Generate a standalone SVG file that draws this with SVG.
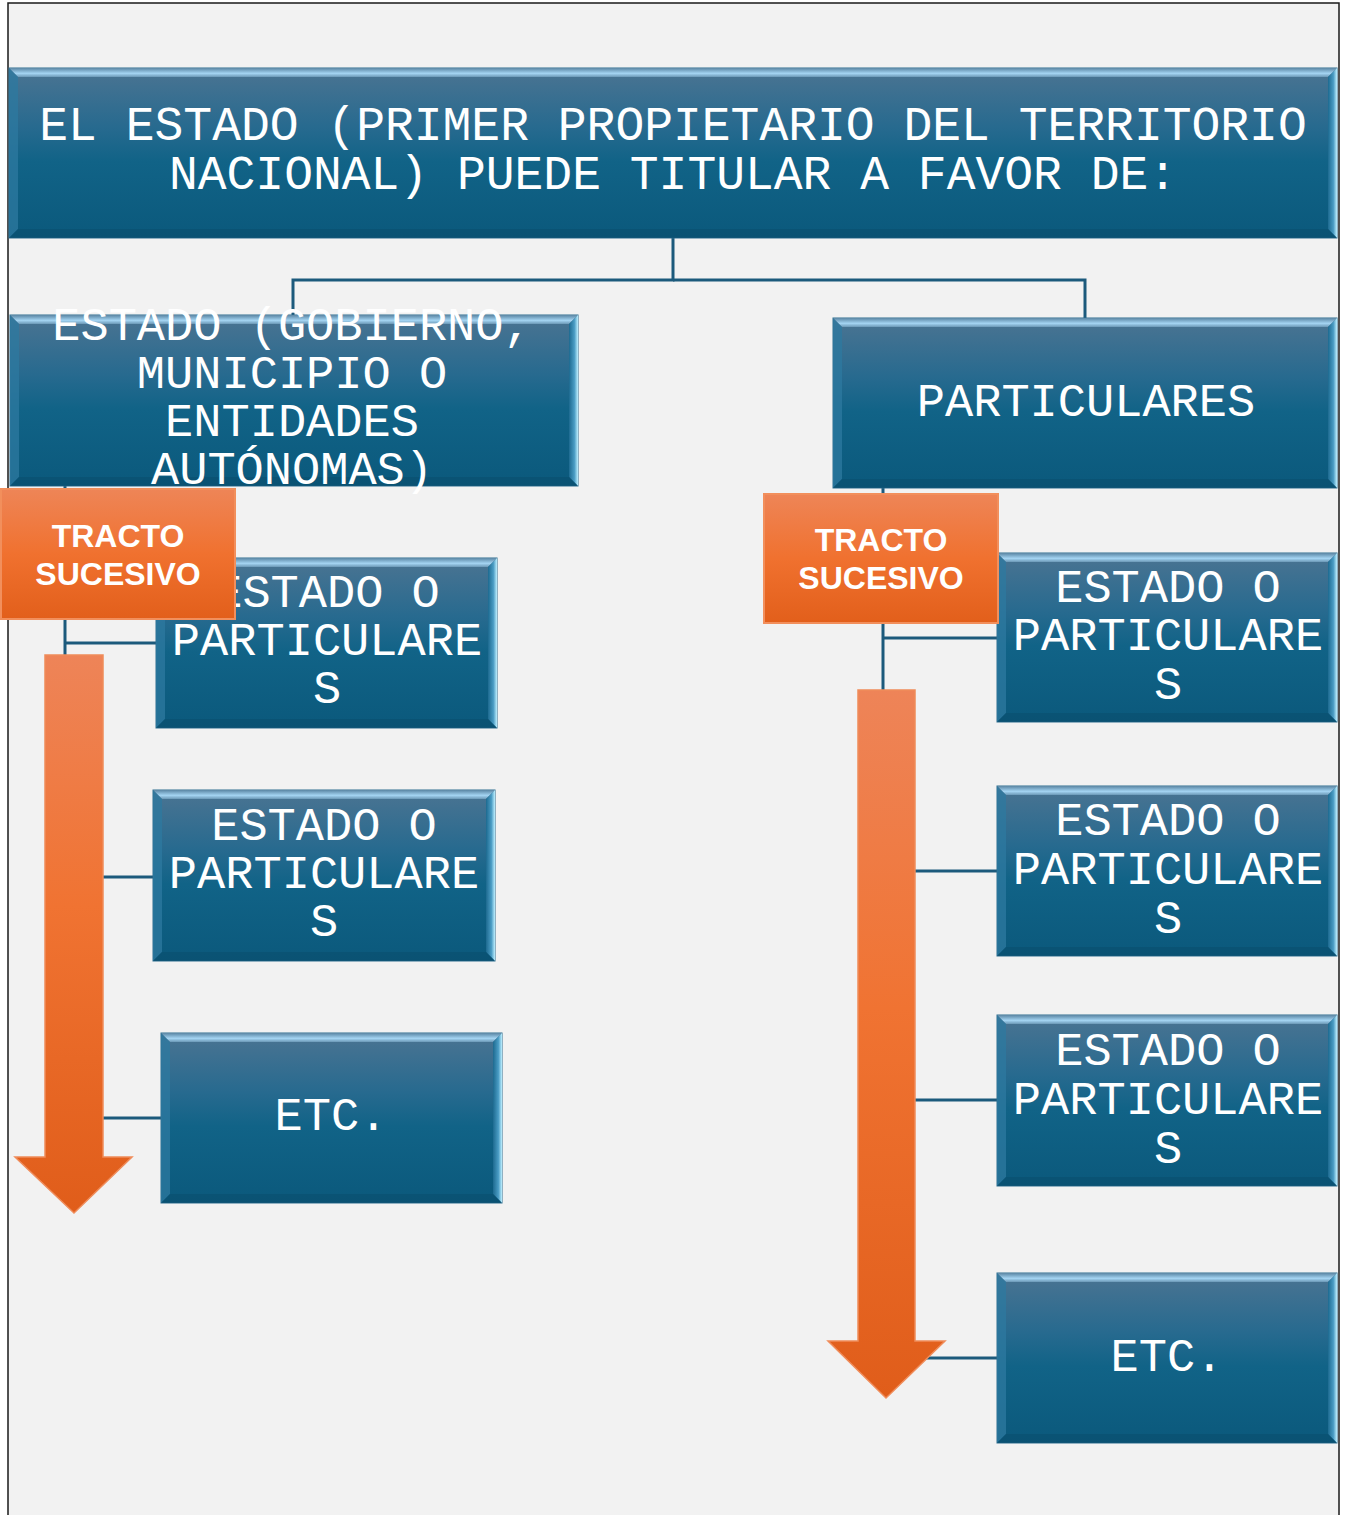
<svg xmlns="http://www.w3.org/2000/svg" width="1348" height="1515" viewBox="0 0 1348 1515">
<defs>
<linearGradient id="face" x1="0" y1="0" x2="0" y2="1">
<stop offset="0" stop-color="#4b7492"/>
<stop offset="0.35" stop-color="#276a8f"/>
<stop offset="0.55" stop-color="#116387"/>
<stop offset="1" stop-color="#0b597c"/>
</linearGradient>
<linearGradient id="bevT" x1="0" y1="0" x2="0" y2="1">
<stop offset="0" stop-color="#5a86a4"/>
<stop offset="0.6" stop-color="#a4d4f2"/>
<stop offset="1" stop-color="#6b98b6"/>
</linearGradient>
<linearGradient id="bevR" x1="0" y1="0" x2="1" y2="0">
<stop offset="0" stop-color="#1d6a90"/>
<stop offset="0.6" stop-color="#4a9cc4"/>
<stop offset="1" stop-color="#bdefff"/>
</linearGradient>
<linearGradient id="org" x1="0" y1="0" x2="0" y2="1">
<stop offset="0" stop-color="#ee8557"/>
<stop offset="0.5" stop-color="#f0712f"/>
<stop offset="1" stop-color="#e25f1b"/>
</linearGradient>
<linearGradient id="arr" x1="0" y1="0" x2="0" y2="1">
<stop offset="0" stop-color="#ee8458"/>
<stop offset="0.45" stop-color="#f07332"/>
<stop offset="1" stop-color="#e05d1a"/>
</linearGradient>
<style>
.face{fill:url(#face);stroke:#2f6f90;stroke-width:1}
.bt{fill:url(#bevT)}
.bl{fill:#2d7aa0;opacity:0.75}
.br{fill:url(#bevR)}
.bb{fill:#0a4f6e;opacity:0.6}
.t{font-family:"Liberation Mono","Courier New",monospace;font-size:47px;fill:#ffffff;text-anchor:middle}
.ot{font-family:"Liberation Sans",Arial,sans-serif;font-weight:bold;font-size:32px;fill:#ffffff;text-anchor:middle}
.obox{fill:url(#org);stroke:#f28f5c;stroke-width:2}
.arrow{fill:url(#arr);stroke:#f08c5a;stroke-width:1.5}
.con{fill:none;stroke:#1c5a7c;stroke-width:3}
</style>
</defs>
<rect x="0" y="0" width="1348" height="1515" fill="#ffffff"/>
<rect x="8" y="3" width="1331" height="1520" fill="#f2f2f2" stroke="#1a1a1a" stroke-width="1.5"/>

<g id="connectors">
<path class="con" d="M673 238 V280 H293 V315"/>
<path class="con" d="M673 280 H1085 V318"/>
<path class="con" d="M65 486 V1118"/>
<path class="con" d="M65 643 H157"/>
<path class="con" d="M65 877 H153"/>
<path class="con" d="M65 1118 H161"/>
<path class="con" d="M883 488 V1358"/>
<path class="con" d="M883 638 H997"/>
<path class="con" d="M883 871 H997"/>
<path class="con" d="M883 1100 H997"/>
<path class="con" d="M883 1358 H997"/>
</g>

<g id="n-top">
<rect class="face" x="9" y="68" width="1328" height="170"/>
<polygon class="bt" points="9,68 1337,68 1328,77 18,77"/>
<polygon class="bl" points="9,68 18,77 18,229 9,238"/>
<polygon class="br" points="1337,68 1337,238 1328,229 1328,77"/>
<polygon class="bb" points="9,238 1337,238 1328,229 18,229"/>
<text class="t" font-size="48" style="font-size:48px" x="673" y="140">EL ESTADO (PRIMER PROPIETARIO DEL TERRITORIO</text>
<text class="t" style="font-size:48px" x="673" y="189">NACIONAL) PUEDE TITULAR A FAVOR DE:</text>
</g>

<g id="n-estado">
<rect class="face" x="10" y="315" width="568" height="171"/>
<polygon class="bt" points="10,315 578,315 569,324 19,324"/>
<polygon class="bl" points="10,315 19,324 19,477 10,486"/>
<polygon class="br" points="578,315 578,486 569,477 569,324"/>
<polygon class="bb" points="10,486 578,486 569,477 19,477"/>
<text class="t" x="292" y="340">ESTADO (GOBIERNO,</text>
<text class="t" x="292" y="388">MUNICIPIO O</text>
<text class="t" x="292" y="436">ENTIDADES</text>
<text class="t" x="292" y="484">AUTÓNOMAS)</text>
</g>

<g id="n-particulares">
<rect class="face" x="833" y="318" width="504" height="170"/>
<polygon class="bt" points="833,318 1337,318 1328,327 842,327"/>
<polygon class="bl" points="833,318 842,327 842,479 833,488"/>
<polygon class="br" points="1337,318 1337,488 1328,479 1328,327"/>
<polygon class="bb" points="833,488 1337,488 1328,479 842,479"/>
<text class="t" x="1086" y="416">PARTICULARES</text>
</g>

<g id="n-l1">
<rect class="face" x="156" y="558" width="341" height="170"/>
<polygon class="bt" points="156,558 497,558 488,567 165,567"/>
<polygon class="bl" points="156,558 165,567 165,719 156,728"/>
<polygon class="br" points="497,558 497,728 488,719 488,567"/>
<polygon class="bb" points="156,728 497,728 488,719 165,719"/>
<text class="t" x="327" y="607">ESTADO O</text>
<text class="t" x="327" y="655">PARTICULARE</text>
<text class="t" x="327" y="703">S</text>
</g>

<g id="n-l2">
<rect class="face" x="153" y="790" width="342" height="171"/>
<polygon class="bt" points="153,790 495,790 486,799 162,799"/>
<polygon class="bl" points="153,790 162,799 162,952 153,961"/>
<polygon class="br" points="495,790 495,961 486,952 486,799"/>
<polygon class="bb" points="153,961 495,961 486,952 162,952"/>
<text class="t" x="324" y="840">ESTADO O</text>
<text class="t" x="324" y="888">PARTICULARE</text>
<text class="t" x="324" y="936">S</text>
</g>

<g id="n-l3">
<rect class="face" x="161" y="1033" width="341" height="170"/>
<polygon class="bt" points="161,1033 502,1033 493,1042 170,1042"/>
<polygon class="bl" points="161,1033 170,1042 170,1194 161,1203"/>
<polygon class="br" points="502,1033 502,1203 493,1194 493,1042"/>
<polygon class="bb" points="161,1203 502,1203 493,1194 170,1194"/>
<text class="t" x="331" y="1130">ETC.</text>
</g>

<g id="n-r1">
<rect class="face" x="997" y="553" width="340" height="169"/>
<polygon class="bt" points="997,553 1337,553 1328,562 1006,562"/>
<polygon class="bl" points="997,553 1006,562 1006,713 997,722"/>
<polygon class="br" points="1337,553 1337,722 1328,713 1328,562"/>
<polygon class="bb" points="997,722 1337,722 1328,713 1006,713"/>
<text class="t" x="1168" y="602">ESTADO O</text>
<text class="t" x="1168" y="650">PARTICULARE</text>
<text class="t" x="1168" y="699">S</text>
</g>

<g id="n-r2">
<rect class="face" x="997" y="786" width="340" height="170"/>
<polygon class="bt" points="997,786 1337,786 1328,795 1006,795"/>
<polygon class="bl" points="997,786 1006,795 1006,947 997,956"/>
<polygon class="br" points="1337,786 1337,956 1328,947 1328,795"/>
<polygon class="bb" points="997,956 1337,956 1328,947 1006,947"/>
<text class="t" x="1168" y="835">ESTADO O</text>
<text class="t" x="1168" y="884">PARTICULARE</text>
<text class="t" x="1168" y="933">S</text>
</g>

<g id="n-r3">
<rect class="face" x="997" y="1015" width="340" height="171"/>
<polygon class="bt" points="997,1015 1337,1015 1328,1024 1006,1024"/>
<polygon class="bl" points="997,1015 1006,1024 1006,1177 997,1186"/>
<polygon class="br" points="1337,1015 1337,1186 1328,1177 1328,1024"/>
<polygon class="bb" points="997,1186 1337,1186 1328,1177 1006,1177"/>
<text class="t" x="1168" y="1065">ESTADO O</text>
<text class="t" x="1168" y="1114">PARTICULARE</text>
<text class="t" x="1168" y="1163">S</text>
</g>

<g id="n-r4">
<rect class="face" x="997" y="1273" width="340" height="170"/>
<polygon class="bt" points="997,1273 1337,1273 1328,1282 1006,1282"/>
<polygon class="bl" points="997,1273 1006,1282 1006,1434 997,1443"/>
<polygon class="br" points="1337,1273 1337,1443 1328,1434 1328,1282"/>
<polygon class="bb" points="997,1443 1337,1443 1328,1434 1006,1434"/>
<text class="t" x="1167" y="1371">ETC.</text>
</g>

<g id="arrow-left">
<path class="arrow" d="M45 655 H103 V1157 H132 L74 1213 L15 1157 H45 Z"/>
</g>
<g id="arrow-right">
<path class="arrow" d="M858 690 H915 V1341 H945 L886 1398 L828 1341 H858 Z"/>
</g>

<g id="n-tracto-left">
<rect class="obox" x="1" y="489" width="234" height="130"/>
<text class="ot" x="118" y="547">TRACTO</text>
<text class="ot" x="118" y="585">SUCESIVO</text>
</g>

<g id="n-tracto-right">
<rect class="obox" x="764" y="494" width="234" height="129"/>
<text class="ot" x="881" y="551">TRACTO</text>
<text class="ot" x="881" y="589">SUCESIVO</text>
</g>
</svg>
